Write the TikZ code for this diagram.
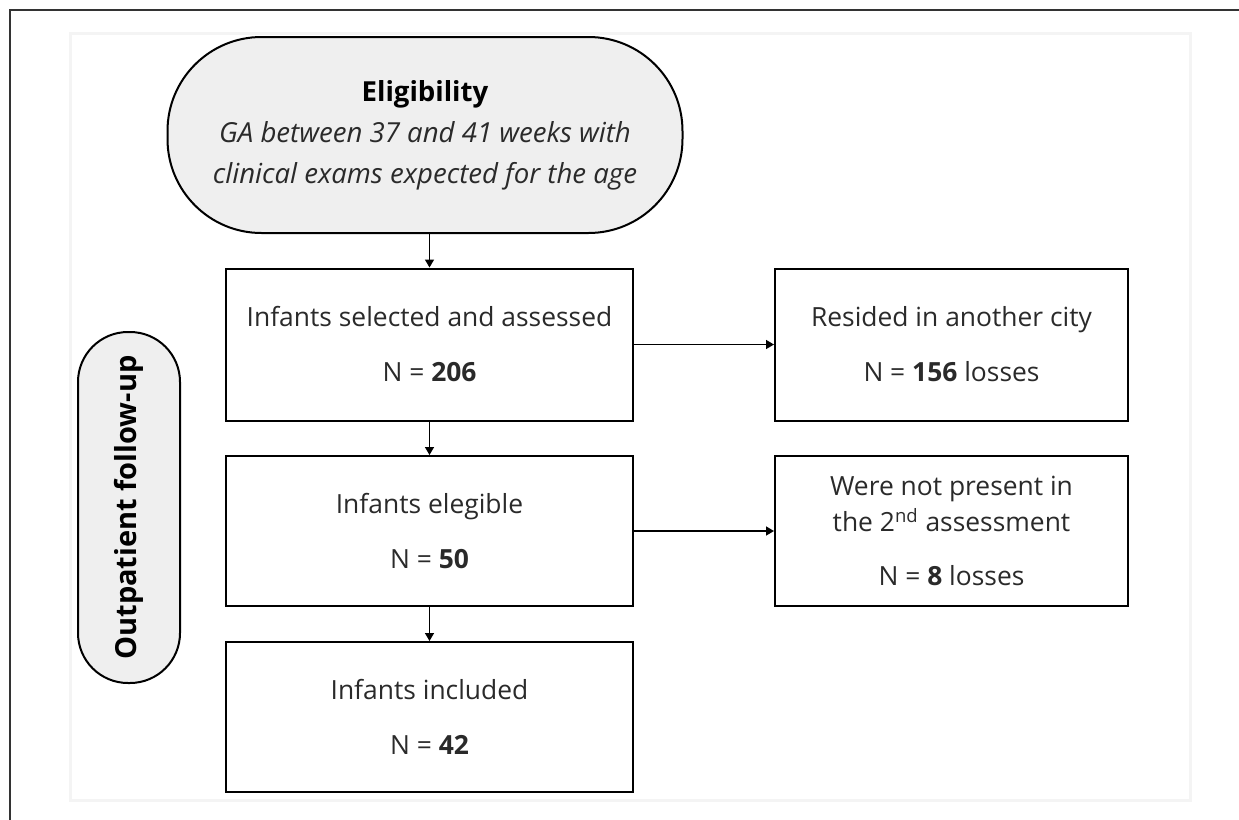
\documentclass[tikz,border=0pt]{standalone}
\usepackage{fontspec}
\setmainfont{Open Sans}
\usetikzlibrary{arrows.meta}

\definecolor{stadfill}{HTML}{EFEFEF}
\definecolor{panelline}{HTML}{F4F4F4}
\definecolor{txtgray}{HTML}{2A2A2A}

\tikzset{
  box/.style={draw, line width=1pt, minimum width=203.5pt, minimum height=76pt,
    align=center, text=txtgray, font=\fontsize{13.2}{27.5}\selectfont},
  sidebox/.style={box, minimum width=176.5pt},
  stadium/.style={draw, line width=1pt, fill=stadfill, align=center},
  arr/.style={line width=0.8pt, -{Triangle[length=4pt,width=4.5pt]}}
}

\begin{document}
\begin{tikzpicture}[x=0.5pt,y=-0.5pt]
\useasboundingbox (0,0) rectangle (1239,820);

% frame and panel
\draw[line width=1.2pt, black!80] (10,820) -- (10,10) -- (1239,10);
\draw[line width=1.5pt, panelline] (70,33) rectangle (1190,800);

\node[stadium, minimum width=257.5pt, minimum height=98pt, rounded corners=47pt,
  font=\fontsize{13.8}{20.5}\selectfont] (elig) at (425,135)
  {\textbf{Eligibility}\\ \textcolor{txtgray}{\itshape GA between 37 and 41 weeks with}\\
   \textcolor{txtgray}{\itshape clinical exams expected for the age}};

\node[stadium, rotate=90, minimum width=175.5pt, minimum height=51pt, rounded corners=25pt,
  font=\bfseries\fontsize{14.5}{16}\selectfont] (follow) at (129,507.5) {Outpatient follow-up};

\node[box] (sel) at (429.5,344.5) {Infants selected and assessed\\ N = \textbf{206}};
\node[box, minimum height=75pt] (eleg) at (429.5,531) {Infants elegible\\ N = \textbf{50}};
\node[box, minimum height=75pt] (incl) at (429.5,717) {Infants included\\ N = \textbf{42}};

\node[sidebox] (city) at (951.5,344.5) {Resided in another city\\ N = \textbf{156} losses};
\node[sidebox, minimum height=75pt, font=\fontsize{13.2}{18}\selectfont] (absent) at (951.5,531)
  {Were not present in\\ the 2\textsuperscript{nd} assessment\\[9pt] N = \textbf{8} losses};

\draw[arr] (elig.south -| sel.north) -- (sel.north);
\draw[arr] (sel) -- (eleg);
\draw[arr] (eleg) -- (incl);
\draw[arr] (sel) -- (city);
\draw[arr] (eleg) -- (absent);
\end{tikzpicture}
\end{document}
